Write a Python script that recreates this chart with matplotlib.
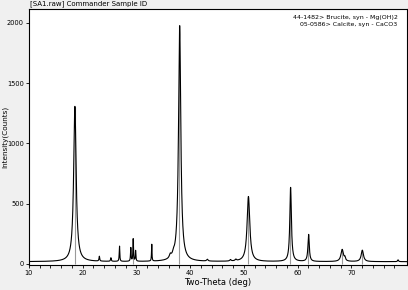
import numpy as np
import matplotlib.pyplot as plt

# peak list: position (deg), height (counts), FWHM (deg)
peak_pos = [18.55, 38.05, 50.85, 58.70, 62.05, 68.30, 72.05,
            23.10, 25.25, 26.85, 28.95, 29.40, 29.85, 32.85, 36.30, 36.90,
            43.20, 47.50, 48.50, 68.80, 78.70]
peak_h = [1290, 1960, 540, 615, 225, 100, 95,
          40, 30, 130, 115, 185, 90, 145, 30, 25,
          15, 12, 12, 25, 15]
peak_w = [0.55, 0.50, 0.60, 0.35, 0.30, 0.55, 0.50,
          0.15, 0.15, 0.12, 0.12, 0.12, 0.12, 0.10, 0.40, 0.40,
          0.30, 0.30, 0.30, 0.25, 0.20]
baseline = 18

# reference stick lines (brucite + calcite)
stick_pos = [18.6, 38.0, 50.8, 58.6, 62.0, 68.2, 72.0, 29.4]
stick_h = [1300, 1970, 560, 630, 240, 120, 110, 200]

two_theta = np.arange(10, 80.5, 0.02)
counts = np.full_like(two_theta, baseline, dtype=float)
for p, h, w in zip(peak_pos, peak_h, peak_w):
    counts += h / (1 + ((two_theta - p) / (w / 2)) ** 2)

fig = plt.figure(figsize=(4.08, 2.90), dpi=100, facecolor='#f0f0f0')
ax = fig.add_axes([0.071, 0.086, 0.927, 0.883])
ax.set_facecolor('white')

ax.vlines(stick_pos, 0, stick_h, color='#9a9a9a', linewidth=0.8)
ax.plot(two_theta, counts, color='black', linewidth=0.8)

ax.set_xlim(10, 80.4)
ax.set_ylim(-10, 2115)
ax.set_xticks(range(10, 80, 10))
ax.set_xticks(range(10, 80, 2), minor=True)
ax.set_yticks([0, 500, 1000, 1500, 2000])
ax.tick_params(labelsize=4.8, length=2.5, width=0.6, pad=1.2)
ax.tick_params(which='minor', length=2.5, width=0.6)
for s in ax.spines.values():
    s.set_linewidth(0.8)

ax.set_xlabel('Two-Theta (deg)', fontsize=6, labelpad=1)
ax.set_ylabel('Intensity(Counts)', fontsize=5.2, va='center')
ax.yaxis.set_label_coords(-0.064, 0.5)

fig.text(0.074, 0.975, '[SA1.raw] Commander Sample ID', fontsize=5, va='bottom')
ax.text(0.975, 0.975, '44-1482> Brucite, syn - Mg(OH)2\n05-0586> Calcite, syn - CaCO3',
        transform=ax.transAxes, ha='right', va='top', fontsize=4.5, linespacing=1.4,
        multialignment='right')

fig.savefig('out.png', dpi=100, facecolor=fig.get_facecolor())
